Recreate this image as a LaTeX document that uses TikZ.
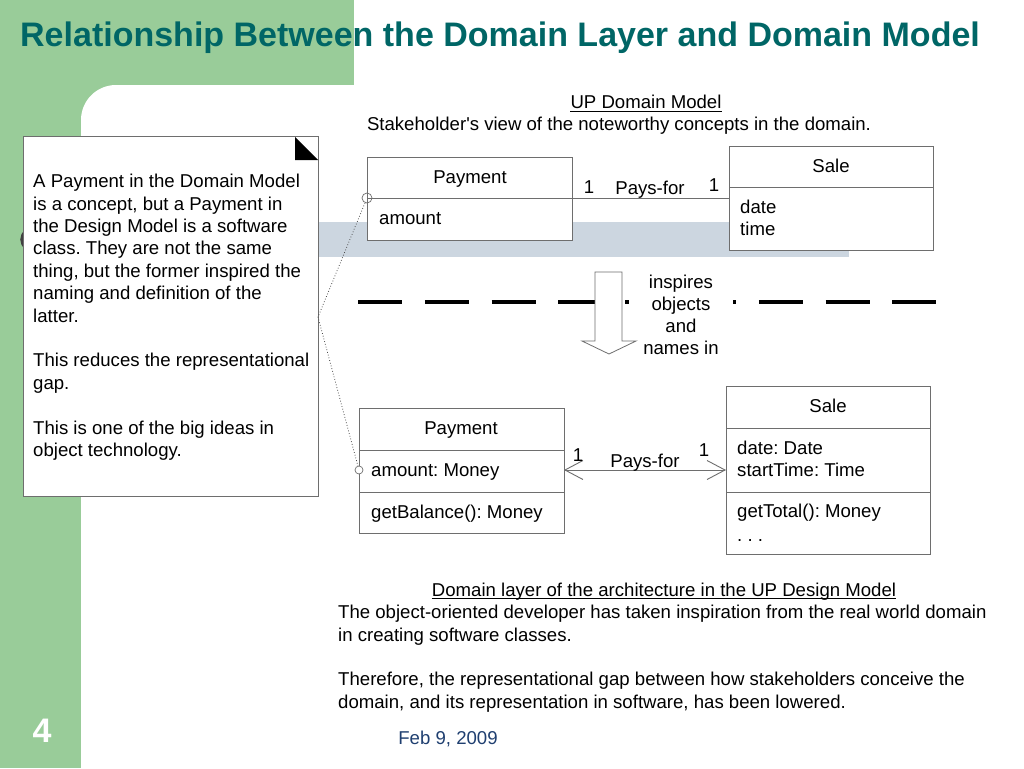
\documentclass[tikz,border=0pt]{standalone}
\usepackage{fontspec}
\setmainfont{Liberation Sans}[Ligatures=TeXOff]
\usetikzlibrary{arrows.meta}
\definecolor{bggreen}{RGB}{153,204,153}
\definecolor{titleteal}{RGB}{0,102,102}
\definecolor{bandgray}{RGB}{204,214,224}
\definecolor{linegray}{RGB}{110,110,110}
\definecolor{datebl}{RGB}{31,63,112}
\frenchspacing
\begin{document}
\frenchspacing
\begin{tikzpicture}[x=1pt,y=-1pt,
 txt/.style={font=\fontsize{18.6}{22.4}\selectfont\frenchspacing, inner sep=0pt},
 umlbox/.style={draw=linegray, fill=white, line width=0.9pt, inner sep=0pt, anchor=north west},
 boxline/.style={draw=linegray, line width=0.9pt},
 uline/.style={line width=0.9pt},
 barb/.tip={Straight Barb[length=18pt,width=19pt]},
]
\useasboundingbox (0,0) rectangle (1024,768);
\clip (0,0) rectangle (1024,768);
% background
\fill[bggreen] (0,0) rectangle (354,130);
\fill[bggreen] (0,0) rectangle (81,768);
\fill[white, rounded corners=35] (81,85) rectangle (1100,900);
% title
\node[anchor=base west, inner sep=0pt, font=\fontsize{34}{40}\selectfont\bfseries, text=titleteal] (title) at (20,47) {Relationship Between the Domain Layer and Domain Model};
% band
\fill[bandgray] (24,222) rectangle (849,257);
\draw[line width=2.5pt, black!75] (26,231) .. controls (20,235) and (20,244) .. (26,248);
% note
\node[draw=linegray, fill=white, line width=0.9pt, minimum width=295, minimum height=360, anchor=north west, inner sep=0pt] (note) at (23,136) {};
\fill[black] (295,137) -- (318,160) -- (295,160) -- cycle;
\node[txt, anchor=north west, align=left] (notetext) at (33,174) {A Payment in the Domain Model\\is a concept, but a Payment in\\the Design Model is a software\\class. They are not the same\\thing, but the former inspired the\\naming and definition of the\\latter.\\[22.4pt]This reduces the representational\\gap.\\[22.4pt]This is one of the big ideas in\\object technology.};
% top captions
\node[txt, anchor=base] (uptitle) at (646,108.5) {UP Domain Model};
\draw[uline] ([yshift=-2.8pt]uptitle.base west) -- ([yshift=-2.8pt]uptitle.base east);
\node[txt, anchor=base] (stake) at (619,130.5) {Stakeholder's view of the noteworthy concepts in the domain.};
% top boxes
\node[umlbox, minimum width=205, minimum height=83] (pay1) at (367,157) {};
\draw[boxline] (367,198) -- (572,198);
\node[txt, anchor=base] (pay1name) at (470,183.5) {Payment};
\node[txt, anchor=base west] (pay1attr) at (379,224.5) {amount};
\node[umlbox, minimum width=204, minimum height=104] (sale1) at (729,146) {};
\draw[boxline] (729,187) -- (933,187);
\node[txt, anchor=base] (sale1name) at (831,172.5) {Sale};
\node[txt, anchor=base west] (sale1a) at (740,213.5) {date};
\node[txt, anchor=base west] (sale1b) at (740,235.5) {time};
\coordinate (pay1d) at (572,198);
\coordinate (sale1d) at (729,198);
\draw[boxline] (pay1d) -- (sale1d);
\node[txt, anchor=base] (m1a) at (589,193.5) {1};
\node[txt, anchor=base] (pf1) at (650,194) {Pays-for};
\node[txt, anchor=base] (m1b) at (714,191.5) {1};
\node[circle, draw=linegray, minimum size=10pt, inner sep=0pt, line width=0.7pt] (c1) at (367,198) {};
% dashed separator
\coordinate (dl) at (358,302);
\coordinate (dr) at (937,302);
\draw[line width=3.2pt, dash pattern=on 44pt off 22.8pt] (dl) -- (dr);
\node[txt, fill=white, inner xsep=14.4pt, inner ysep=2pt, align=center, font=\fontsize{18.6}{22}\selectfont] (insp) at (681,315) {inspires\\objects\\and\\names in};
\draw[linegray, fill=white, line width=0.8pt] (595,272) -- (622,272) -- (622,341) -- (636,341) -- (609,354) -- (582,341) -- (595,341) -- cycle;
% bottom boxes
\node[umlbox, minimum width=205, minimum height=125] (pay2) at (359,408) {};
\draw[boxline] (359,450) -- (564,450);
\draw[boxline] (359,492) -- (564,492);
\node[txt, anchor=base] (pay2name) at (461,434.5) {Payment};
\node[txt, anchor=base west] (pay2attr) at (371,476.5) {amount: Money};
\node[txt, anchor=base west] (pay2op) at (371,518.5) {getBalance(): Money};
\node[umlbox, minimum width=204, minimum height=168] (sale2) at (726,386) {};
\draw[boxline] (726,428) -- (930,428);
\draw[boxline] (726,492) -- (930,492);
\node[txt, anchor=base] (sale2name) at (828,412.5) {Sale};
\node[txt, anchor=base west] (sale2a) at (737,454.5) {date: Date};
\node[txt, anchor=base west] (sale2b) at (737,476.5) {startTime: Time};
\node[txt, anchor=base west] (sale2op) at (737,517.5) {getTotal(): Money};
\node[txt, anchor=base west] (sale2dots) at (737,541) {. . .};
\coordinate (pay2a) at (564,470);
\coordinate (sale2a) at (726,470);
\draw[boxline, barb-barb] (pay2a) -- (sale2a);
\node[txt, anchor=base] (m2a) at (578,461.5) {1};
\node[txt, anchor=base] (pf2) at (645,467.5) {Pays-for};
\node[txt, anchor=base] (m2b) at (704,456.5) {1};
\node[circle, draw=linegray, fill=white, minimum size=8pt, inner sep=0pt, line width=0.7pt] (c2) at (359,470) {};
% dotted note links
\coordinate (nm) at (318,317);
\draw[dotted, black!70, line width=0.8pt] (c1) -- (nm) -- (c2);
% bottom caption
\node[txt, anchor=base] (dltitle) at (664,596.5) {Domain layer of the architecture in the UP Design Model};
\draw[uline] ([yshift=-2pt]dltitle.base west) -- ([yshift=-2pt]dltitle.base east);
\node[txt, anchor=north west, align=left] (para) at (338,605) {The object-oriented developer has taken inspiration from the real world domain\\in creating software classes.\\[22.4pt]Therefore, the representational gap between how stakeholders conceive the\\domain, and its representation in software, has been lowered.};
% footer
\node[anchor=base, inner sep=0pt, text=white, font=\fontsize{34}{40}\selectfont\bfseries] (pagenum) at (42,742) {4};
\node[txt, anchor=base, text=datebl] (date) at (448,744) {Feb 9, 2009};
\end{tikzpicture}
\end{document}
